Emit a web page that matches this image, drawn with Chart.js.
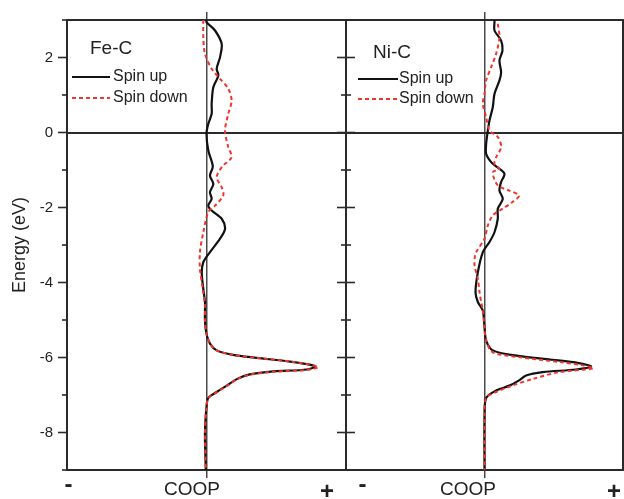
<!DOCTYPE html>
<html>
<head>
<meta charset="utf-8">
<script src="https://cdn.jsdelivr.net/npm/chart.js@4"></script>
<style>
  html, body { margin: 0; padding: 0; background: #fff; }
  #wrap { position: relative; width: 624px; height: 499px; }
  #wrap canvas { position: absolute; left: 0; top: 0; }
</style>
</head>
<body>
<div id="wrap">
  <canvas id="feC" width="624" height="499"></canvas>
  <canvas id="niC" width="624" height="499"></canvas>
</div>
<script>
// energy window (eV)
const yMin = -9, yMax = 3;
const yLabelTicks = [-8, -6, -4, -2, 0, 2];

// Fe-C, spin up: energy / COOP pairs
const feUpEnergy = [3.0, 2.94, 2.72, 2.36, 2.01, 1.70, 1.52, 1.21, 0.77, 0.50, 0.23, -0.03, -0.48, -0.90, -1.15, -1.37, -1.59, -1.77, -1.95, -2.08, -2.30, -2.57, -2.83, -3.19, -3.46, -3.73, -4.17, -4.52, -5.01, -5.37, -5.63, -5.81, -5.93, -6.01, -6.11, -6.23, -6.32, -6.37, -6.45, -6.57, -6.75, -6.92, -7.08, -7.32, -8.03, -9.0];
const feUpCoop = [0.0, 0.0, 0.061, 0.109, 0.097, 0.073, 0.085, 0.049, 0.037, 0.037, 0.013, 0.0, 0.013, 0.045, 0.025, 0.049, 0.025, 0.037, 0.013, 0.037, 0.109, 0.133, 0.097, 0.025, -0.023, -0.034, -0.023, -0.011, -0.011, 0.0, 0.025, 0.073, 0.19, 0.36, 0.60, 0.78, 0.72, 0.48, 0.31, 0.22, 0.145, 0.073, 0.013, 0.0, -0.011, -0.005];

// Fe-C, spin down
const feDownEnergy = [3.0, 2.54, 2.10, 1.70, 1.43, 1.17, 0.85, 0.50, 0.05, -0.39, -0.66, -0.90, -1.19, -1.46, -1.68, -1.95, -2.12, -2.66, -3.19, -3.63, -4.26, -4.61, -5.01, -5.37, -5.63, -5.81, -5.93, -6.01, -6.11, -6.25, -6.33, -6.38, -6.46, -6.58, -6.76, -6.93, -7.08, -7.32, -8.03, -9.0];
const feDownCoop = [-0.023, -0.023, -0.011, 0.037, 0.097, 0.156, 0.18, 0.156, 0.133, 0.156, 0.18, 0.115, 0.073, 0.109, 0.12, 0.061, 0.013, -0.023, -0.047, -0.047, -0.023, -0.011, -0.011, 0.0, 0.025, 0.073, 0.19, 0.36, 0.61, 0.80, 0.72, 0.48, 0.31, 0.22, 0.145, 0.073, 0.013, 0.0, -0.011, -0.005];

// Ni-C, spin up
const niUpEnergy = [3.0, 2.94, 2.72, 2.45, 2.19, 1.92, 1.61, 1.39, 1.03, 0.68, 0.32, 0.05, -0.30, -0.57, -0.79, -0.92, -1.10, -1.32, -1.55, -1.77, -2.03, -2.30, -2.66, -2.92, -3.19, -3.73, -4.26, -4.52, -4.75, -5.19, -5.55, -5.81, -5.95, -6.06, -6.15, -6.24, -6.32, -6.39, -6.48, -6.61, -6.75, -6.88, -7.08, -7.59, -9.0];
const niUpCoop = [0.072, 0.072, 0.072, 0.12, 0.13, 0.108, 0.12, 0.108, 0.072, 0.06, 0.036, 0.024, 0.012, 0.012, 0.048, 0.09, 0.144, 0.12, 0.108, 0.132, 0.096, 0.096, 0.072, 0.036, -0.012, -0.048, -0.065, -0.048, -0.012, 0.0, 0.012, 0.06, 0.23, 0.49, 0.68, 0.77, 0.66, 0.42, 0.30, 0.25, 0.18, 0.084, 0.012, 0.0, 0.0];

// Ni-C, spin down
const niDownEnergy = [2.90, 2.54, 2.10, 1.74, 1.39, 1.03, 0.77, 0.41, 0.05, -0.12, -0.39, -0.66, -0.84, -0.97, -1.06, -1.41, -1.55, -1.68, -1.86, -2.03, -2.21, -2.48, -2.83, -3.19, -3.32, -3.55, -3.90, -4.26, -4.52, -4.75, -5.19, -5.55, -5.86, -5.99, -6.12, -6.21, -6.29, -6.39, -6.57, -6.75, -6.92, -7.08, -7.59, -9.0];
const niDownCoop = [0.096, 0.108, 0.084, 0.048, 0.012, 0.0, -0.012, 0.012, 0.036, 0.096, 0.12, 0.084, 0.072, 0.108, 0.06, 0.096, 0.18, 0.25, 0.20, 0.132, 0.06, 0.024, 0.0, -0.06, -0.07, -0.072, -0.048, -0.036, -0.024, -0.012, 0.0, 0.012, 0.06, 0.25, 0.54, 0.71, 0.785, 0.54, 0.35, 0.20, 0.084, 0.012, 0.0, 0.0];

// COOP axis labels and where they sit on each panel's axis
const coopLabels = ["-", "COOP", "+"];
const feLabelAt = [-0.99, -0.104, 0.864];
const niLabelAt = [-0.88, -0.119, 0.935];

const INK = "#2a2a2a";
const RED = "#f0352b";
const FONT = "'Liberation Sans', Arial, sans-serif";

const toPoints = (energy, coop) => energy.map((e, i) => ({ x: coop[i], y: e }));
const zeroOnly = (col) => (ctx) => (ctx.tick && ctx.tick.value === 0 ? col : "rgba(0,0,0,0)");

// minor/major tick marks on the energy axis
const energyTicks = {
    id: "energyTicks",
    afterDraw(chart, args, opts) {
        const s = chart.scales.y, ctx = chart.ctx, x0 = chart.chartArea.left;
        ctx.save();
        ctx.strokeStyle = INK;
        ctx.lineWidth = 1.6;
        for (let v = yMin; v <= yMax; v++) {
            const len = v % 2 === 0 ? 9 : 5;
            const y = s.getPixelForValue(v);
            ctx.beginPath();
            ctx.moveTo(x0 - len, y);
            ctx.lineTo(opts.both ? x0 + len : x0, y);
            ctx.stroke();
        }
        ctx.restore();
    }
};

// panel name plus line samples, drawn inside the plot area
const panelKey = {
    id: "panelKey",
    afterDraw(chart, args, o) {
        const { ctx, chartArea: a } = chart;
        ctx.save();
        ctx.fillStyle = "#222";
        ctx.textBaseline = "middle";
        ctx.font = "19px " + FONT;
        ctx.fillText(o.title, a.left + o.titleX, a.top + o.titleY);
        ctx.font = "16px " + FONT;
        chart.data.datasets.forEach((ds, i) => {
            const y = a.top + o.rowY[i];
            ctx.strokeStyle = ds.borderColor;
            ctx.lineWidth = ds.borderWidth;
            ctx.setLineDash(ds.borderDash || []);
            ctx.beginPath();
            ctx.moveTo(a.left + o.lineX, y);
            ctx.lineTo(a.left + o.lineX + o.lineLen, y);
            ctx.stroke();
            ctx.setLineDash([]);
            ctx.fillText(ds.label, a.left + o.textX, y);
        });
        ctx.restore();
    }
};

function makePanel(id, up, down, labelAt, key, isFirst) {
    const tickValues = labelAt.concat([0]).sort((a, b) => a - b);
    const yScale = {
        type: "linear",
        min: yMin,
        max: yMax,
        afterBuildTicks: s => { s.ticks = yLabelTicks.map(v => ({ value: v })); },
        afterFit: s => {
            s.width = isFirst ? 67 : 1;
            s.paddingTop = 0;
            s.paddingBottom = 0;
        },
        grid: { drawTicks: false, color: zeroOnly(INK), lineWidth: 2 },
        border: { color: INK, width: 2 },
        ticks: {
            display: isFirst,
            padding: 14,
            color: "#222",
            font: { family: FONT, size: 15 }
        },
        title: {
            display: isFirst,
            text: "Energy (eV)",
            color: "#222",
            font: { family: FONT, size: 18 },
            padding: { top: 9, bottom: 0 }
        }
    };
    const scales = {
        x: {
            type: "linear",
            position: "bottom",
            min: -1,
            max: 1,
            afterBuildTicks: s => { s.ticks = tickValues.map(v => ({ value: v })); },
            afterFit: s => { s.height = 29; },
            grid: { color: zeroOnly("#4a4a4a"), tickColor: zeroOnly("#4a4a4a"), lineWidth: 1.5, tickLength: 8 },
            border: { color: INK, width: 2 },
            ticks: {
                autoSkip: false,
                maxRotation: 0,
                padding: 0,
                color: "#222",
                callback: v => { const i = labelAt.indexOf(v); return i < 0 ? "" : coopLabels[i]; },
                font: ctx => {
                    const i = ctx.tick ? labelAt.indexOf(ctx.tick.value) : -1;
                    if (i === 1) return { family: FONT, size: 19 };
                    // the minus sign sits a little higher than the plus
                    return { family: FONT, size: 24, weight: "bold", lineHeight: i === 0 ? 0.6 : 1.2 };
                }
            }
        },
        xt: {
            type: "linear",
            position: "top",
            min: -1,
            max: 1,
            afterBuildTicks: s => { s.ticks = [{ value: 0 }]; },
            afterFit: s => { s.height = 20; },
            grid: { drawOnChartArea: false, tickColor: zeroOnly("#4a4a4a"), lineWidth: 1.5, tickLength: 8 },
            border: { color: INK, width: 2 },
            ticks: { display: false }
        },
        y: yScale
    };
    if (!isFirst) {
        scales.y2 = {
            type: "linear",
            position: "right",
            min: yMin,
            max: yMax,
            afterFit: s => { s.width = 1; },
            grid: { display: false },
            border: { color: INK, width: 2 },
            ticks: { display: false }
        };
    }

    return new Chart(document.getElementById(id), {
        type: "line",
        data: {
            datasets: [{
                label: "Spin up",
                data: up,
                borderColor: "#111",
                borderWidth: 2.2,
                pointRadius: 0,
                tension: 0.3,
                order: 1
            }, {
                label: "Spin down",
                data: down,
                borderColor: RED,
                borderWidth: 2,
                borderDash: [4, 3],
                pointRadius: 0,
                tension: 0.3,
                order: 0
            }]
        },
        options: {
            responsive: false,
            animation: false,
            layout: { padding: isFirst ? { left: 0, right: 278, top: 0, bottom: 0 } : { left: 345, right: 0, top: 0, bottom: 0 } },
            scales: scales,
            plugins: {
                legend: { display: false },
                tooltip: { enabled: false },
                panelKey: key,
                energyTicks: { both: !isFirst }
            }
        },
        plugins: [energyTicks, panelKey]
    });
}

makePanel("feC",
    toPoints(feUpEnergy, feUpCoop),
    toPoints(feDownEnergy, feDownCoop),
    feLabelAt,
    { title: "Fe-C", titleX: 23, titleY: 29, lineX: 5, lineLen: 38, textX: 46, rowY: [57, 78] },
    true);

makePanel("niC",
    toPoints(niUpEnergy, niUpCoop),
    toPoints(niDownEnergy, niDownCoop),
    niLabelAt,
    { title: "Ni-C", titleX: 27, titleY: 33, lineX: 12, lineLen: 40, textX: 53, rowY: [59, 79] },
    false);
</script>
</body>
</html>
